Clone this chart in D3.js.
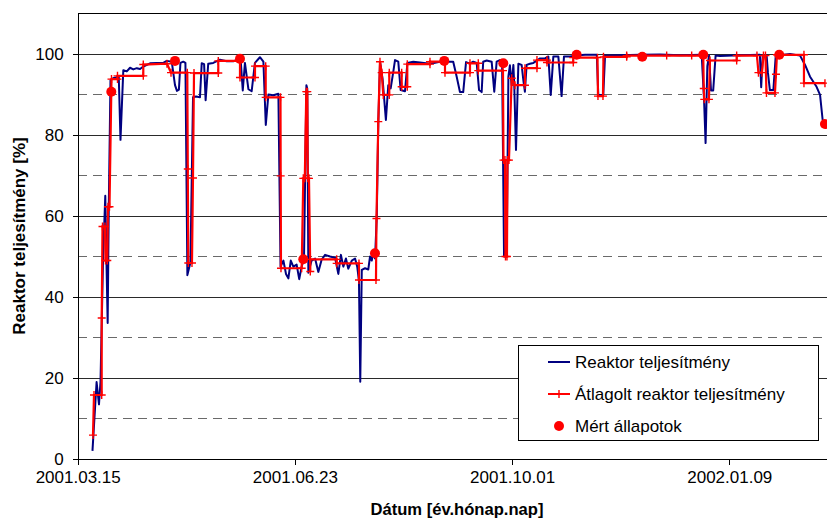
<!DOCTYPE html>
<html><head><meta charset="utf-8">
<script src="https://cdn.jsdelivr.net/npm/d3@7"></script>
<style>
body{margin:0;background:#fff}
svg{display:block}
text{font-family:"Liberation Sans",Arial,sans-serif}
</style>
</head><body>
<svg id="chart" width="827" height="520"></svg>
<script>
// ---- data (x = days since 2001.03.15, y = %) ----
const tickDays = [0, 100, 200, 300];
const dateLabels = ["2001.03.15", "2001.06.23", "2001.10.01", "2002.01.09"];
const yTicks = [0, 20, 40, 60, 80, 100];
const seriesNames = ["Reaktor teljesítmény", "Átlagolt reaktor teljesítmény", "Mért állapotok"];

const reactorPower = [
[6.8,2],[8.7,19],[9.8,13.5],[10.5,19],[11.7,50],[12.7,65],[13.2,50],[13.8,33.6],[14.3,62],[15.1,93.5],
[16.3,94],[17.6,94.2],[18.9,94.5],[19.7,78.8],[21,96],[22.6,95.7],[24.1,96.6],[25.6,96.2],[27.2,96.5],[28.7,96.3],
[30.2,96.9],[33.3,97.7],[36.4,97.8],[39.4,97.8],[41,98.3],[43.3,98.1],[44.8,92.3],[45.7,90.9],[46.6,91.2],[47.3,97.8],
[48.6,98.1],[49.6,97.8],[50.5,45.4],[51.9,48.5],[53.1,89.3],[54.5,89.5],[56.3,89.3],[57.1,97.7],[58.2,97.5],[58.9,88.6],
[60.1,97.6],[62.4,97.8],[65.5,98.6],[68.6,98.2],[71.6,98.2],[73.9,98.6],[75.1,98.1],[76,91],[77,97.8],[78.6,91.3],
[80.1,90.8],[81.6,97.8],[83.9,99.2],[85.5,98.1],[86.6,82.5],[87.8,90],[90.1,89.8],[92.4,90.2],[93.4,47.5],[94.7,49],
[95.9,45.7],[97,44.6],[98.1,49],[99.3,47.5],[100.8,48],[102,44.4],[103.1,47.5],[104.2,49.5],[105.3,92.3],[105.7,91.5],
[106.2,46],[107.7,49],[109.3,49.5],[110.8,46.2],[112.3,49.2],[113.9,50.4],[116.2,50],[118.5,49.7],[120,45.7],[121.2,50.4],
[122.3,47.5],[123.5,49.5],[124.6,47],[126.2,49],[127.7,49.5],[128.7,47.5],[129.5,44],[130.1,19.1],[130.8,46.7],[132.3,47.1],
[133.8,46.8],[134.6,50],[135.4,49],[136.1,51],[136.9,49.5],[137.7,59.8],[138.4,82.9],[139.2,98.1],[140.4,93.7],[141.9,83.7],
[143,92.3],[144.1,91.5],[145.3,95.6],[146.1,98.5],[147.6,98.1],[148.7,91.1],[150.7,90.8],[151.8,97.8],[154.5,98.1],[157.6,97.9],
[162.2,97.6],[166.8,98.1],[172.9,98.1],[174.5,94.4],[176,90.6],[177.5,90.6],[178.8,98],[180.6,97.6],[182.1,98.1],[183.7,97.8],
[184.8,91.1],[186,90.6],[186.7,98.1],[188.3,98.4],[190.6,98.1],[191.8,90.7],[192.9,98.1],[194.4,98.5],[195.4,98.1],[196.3,50],
[197.5,50],[198.3,94.4],[199,97.2],[199.8,92.3],[200.6,97.3],[201,92.3],[201.8,76.3],[202.9,97.6],[204.4,97.3],[205.2,93.5],
[205.9,90.7],[206.7,97.3],[208.2,97.6],[209.8,97.8],[212.9,98.9],[215.2,98.9],[216.7,99.4],[217.8,89.9],[219,99.4],[221.3,99.4],
[222.8,89.6],[223.9,99.4],[226.7,99.4],[229,99.6],[233.6,99.8],[239,99.8],[239.7,89.9],[242,89.9],[242.8,99.6],[249.7,99.7],
[258.9,99.8],[268.1,99.9],[277.3,99.7],[287.3,99.8],[288.4,88.6],[289.1,78],[289.9,97],[290.7,99.6],[291.6,91],[292.6,91],
[293.7,99.6],[295.7,99.5],[304.9,99.7],[314.1,99.8],[314.7,91.8],[315.4,99.6],[317.2,99.6],[317.8,95.4],[318.7,91.1],[320.3,91.1],
[321.4,99.6],[328,100],[332.6,99.6],[334.9,97.3],[337.2,94.4],[340.2,91.9],[341.8,89.9],[343,83.7]
];

const averagedPower = [
[7.04,5.9],[7.5,15.8],[11.05,15.8],[11.05,34.8],[11.42,57.4],[12.57,57.4],[12.8,49],[13.63,49],[13.95,62.3],[14.64,62.3],
[15.56,93.8],[18.32,93.8],[18.32,94.6],[30.2,94.6],[30.2,97.4],[41.11,97.6],[42.96,95.4],[50.46,95.4],[50.69,71.6],[50.92,48.4],
[52.62,48.4],[53.08,69.4],[53.55,95.3],[64.73,95.3],[64.73,98.3],[74.72,98.3],[74.72,94.2],[81.63,94.2],[81.63,97],[86.56,97],
[86.56,89.3],[93.37,89.3],[93.46,69.9],[93.6,47.1],[103.13,47.1],[103.87,69.3],[104.56,69.3],[105.25,90.7],[105.71,90.7],[105.94,69.3],
[106.49,69.3],[107.09,46.3],[107.09,49.3],[119.24,49.3],[119.24,48.3],[129.51,48.3],[129.51,44.2],[137.34,44.2],[137.57,59.4],[138.4,83.3],
[139.18,98.1],[139.96,95.4],[140.7,89.9],[143.46,89.9],[143.46,95.4],[149.17,95.4],[149.17,91.9],[151.75,91.9],[151.75,97.5],[162.2,97.5],
[162.2,98.1],[169.11,98.1],[169.11,95.4],[180.62,95.4],[180.62,97.7],[184.44,97.7],[184.44,95.9],[195.81,95.9],[196.04,73.8],[196.73,73.8],
[196.96,50],[197.65,50],[197.88,73.8],[198.57,73.8],[199.82,94],[201.34,92.3],[205.94,92.3],[205.94,96.5],[211.46,96.5],[211.46,98.5],
[216.07,98.5],[216.07,97.9],[228.18,97.9],[228.18,99.1],[239.32,99.1],[239.55,89.6],[241.85,89.6],[242.08,99.3],[252.76,99.3],[252.76,99.6],
[271.18,99.6],[282.69,99.6],[288.03,99.6],[288.26,91.5],[288.49,88.8],[290.65,88.8],[291.11,98.4],[303.41,98.4],[303.41,99.6],[312.75,99.6],
[313.44,95.4],[315.06,95.4],[315.75,99.6],[316.67,99.6],[317.13,90.4],[321.04,90.4],[321.5,95],[321.96,99.8],[334.39,99.8],[334.39,92.8],
[344.06,92.8]
];

const measuredStates = [
[15.47,90.7],[44.8,98.3],[74.72,98.8],[103.87,49.3],[136.88,50.8],[168.78,98.3],
[195.95,97.7],[229.74,99.8],[259.94,99.3],[288.03,99.8],[323.02,99.8],[344.06,82.7]
];

// ---- drawing ----
const svg = d3.select("#chart");
const x = d3.scaleLinear().domain([0, 345]).range([77.7, 827]);
const y = d3.scaleLinear().domain([0, 110]).range([459, 13.5]);
const xL = x.range()[0], xR = x.range()[1];

// gridlines
const gridVals = d3.range(10, 101, 10);
svg.append("g").selectAll("line").data(gridVals).join("line")
  .attr("x1", xL).attr("x2", xR)
  .attr("y1", d => y(d)).attr("y2", d => y(d))
  .attr("stroke", d => d % 20 === 0 ? "#2a2a2a" : "#6a6a6a")
  .attr("stroke-width", 1)
  .attr("stroke-dasharray", d => d % 20 === 0 ? null : "9,6")
  .attr("shape-rendering", "crispEdges");

// top border
svg.append("line").attr("x1", xL).attr("x2", xR).attr("y1", y(110)).attr("y2", y(110))
  .attr("stroke", "#000").attr("shape-rendering", "crispEdges");

// axes
const xAxis = d3.axisBottom(x).tickValues(tickDays).tickFormat((d, i) => dateLabels[i])
  .tickSize(6).tickSizeOuter(0).tickPadding(5.5);
const gx = svg.append("g").attr("transform", `translate(0,${y(0)})`).call(xAxis);
const yAxis = d3.axisLeft(y).tickValues(yTicks).tickSize(5).tickSizeOuter(0).tickPadding(9);
const gy = svg.append("g").attr("transform", `translate(${xL},0)`).call(yAxis);
[gx, gy].forEach(g => {
  g.selectAll("path,line").attr("stroke", "#000").attr("shape-rendering", "crispEdges");
  g.selectAll("text").attr("font-size", 17).attr("fill", "#000")
    .attr("font-family", '"Liberation Sans", Arial, sans-serif');
});

// axis titles
svg.append("text").attr("x", 457).attr("y", 514.5).attr("text-anchor", "middle")
  .attr("font-size", 16.6).attr("font-weight", "bold").text("Dátum [év.hónap.nap]");
svg.append("text").attr("transform", "translate(25,236) rotate(-90)").attr("text-anchor", "middle")
  .attr("font-size", 17).attr("font-weight", "bold").text("Reaktor teljesítmény [%]");

// series
const line = d3.line().x(d => x(d[0])).y(d => y(d[1]));
svg.append("path").datum(reactorPower).attr("d", line)
  .attr("fill", "none").attr("stroke", "#000080").attr("stroke-width", 2).attr("stroke-linejoin", "round");
svg.append("path").datum(averagedPower).attr("d", line)
  .attr("fill", "none").attr("stroke", "#ff0000").attr("stroke-width", 2.2).attr("stroke-linejoin", "miter");
const plus = "M-4,0H4M0,-4V4";
svg.append("g").selectAll("path").data(averagedPower).join("path")
  .attr("transform", d => `translate(${x(d[0])},${y(d[1])})`)
  .attr("d", plus).attr("stroke", "#ff0000").attr("stroke-width", 1.4).attr("fill", "none");
svg.append("g").selectAll("circle").data(measuredStates).join("circle")
  .attr("cx", d => x(d[0])).attr("cy", d => y(d[1])).attr("r", 5).attr("fill", "#ff0000");

// legend
const lg = svg.append("g");
lg.append("rect").attr("x", 518.5).attr("y", 345.5).attr("width", 300).attr("height", 95)
  .attr("fill", "#fff").attr("stroke", "#000").attr("stroke-width", 1);
const rows = [362, 394, 426];
lg.append("line").attr("x1", 548).attr("x2", 570).attr("y1", rows[0]).attr("y2", rows[0])
  .attr("stroke", "#000080").attr("stroke-width", 2);
lg.append("line").attr("x1", 548).attr("x2", 570).attr("y1", rows[1]).attr("y2", rows[1])
  .attr("stroke", "#ff0000").attr("stroke-width", 2);
lg.append("path").attr("transform", `translate(559,${rows[1]})`).attr("d", plus)
  .attr("stroke", "#ff0000").attr("stroke-width", 1.4);
lg.append("circle").attr("cx", 559).attr("cy", rows[2]).attr("r", 5).attr("fill", "#ff0000");
lg.selectAll("text.lbl").data(seriesNames).join("text").attr("class", "lbl")
  .attr("x", 575).attr("y", (d, i) => rows[i] + 6).attr("font-size", 17).text(d => d);
</script>
</body></html>
